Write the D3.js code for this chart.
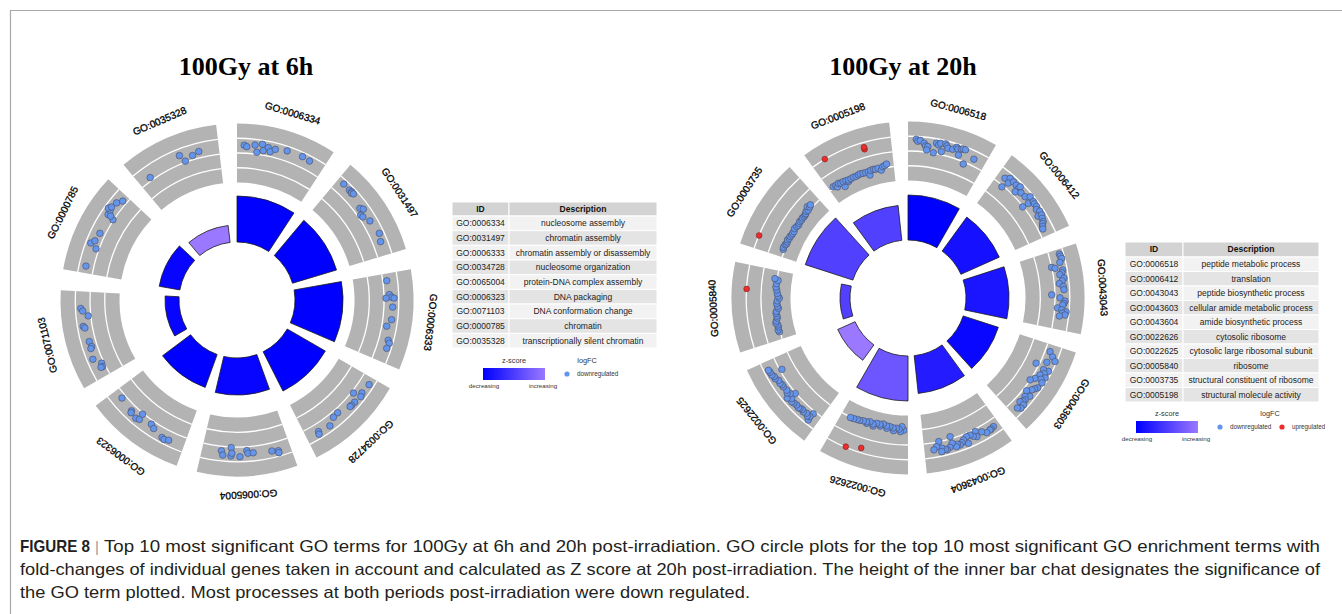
<!DOCTYPE html>
<html><head><meta charset="utf-8">
<script src="https://cdn.jsdelivr.net/npm/d3@7"></script>
<style>body{margin:0;background:#fff}svg{display:block}</style>
</head><body>
<svg id="chart" width="1342" height="614"></svg>
<script>
// ---------------- DATA ----------------
const ids6h = ["GO:0006334","GO:0031497","GO:0006333","GO:0034728","GO:0065004","GO:0006323","GO:0071103","GO:0000785","GO:0035328"];
const desc6h = ["nucleosome assembly","chromatin assembly","chromatin assembly or disassembly","nucleosome organization","protein-DNA complex assembly","DNA packaging","DNA conformation change","chromatin","transcriptionally silent chromatin"];
const sig6h = [11.5, 11.5, 12, 11, 9.25, 8.75, 3.5, 5.25, 4.25];        // -log10(adj p)
const z6h = [-3.5, -3.5, -3.5, -3.5, -3.4, -3.5, -3.4, -3.4, -1.25];    // z-score
// genes: [relative position in term, logFC]
const down6h = [
 [[0.08,0.54],[0.11,0.45],[0.20,0.61],[0.28,0.73],[0.23,0.14],[0.30,0.31],[0.35,0.58],[0.38,0.34],[0.43,0.57],[0.56,0.70],[0.74,0.72],[0.83,0.66]],
 [[0.08,0.72],[0.17,0.69],[0.20,0.73],[0.21,0.65],[0.23,0.71],[0.40,0.43],[0.43,0.58],[0.47,0.20],[0.50,0.26],[0.58,0.52],[0.75,0.69],[0.84,0.54]],
 [[0.08,0.27],[0.24,0.37],[0.27,0.52],[0.28,0.68],[0.28,0.14],[0.38,0.60],[0.52,0.60],[0.60,0.34],[0.75,0.64],[0.78,0.77],[0.84,0.70]],
 [[0.08,0.67],[0.20,0.59],[0.24,0.68],[0.26,0.14],[0.33,0.60],[0.38,0.58],[0.40,0.57],[0.55,0.28],[0.62,0.33],[0.71,0.64],[0.85,0.53],[0.86,0.70]],
 [[0.78,0.31],[0.67,0.05],[0.76,0.59],[0.67,0.62],[0.66,0.43],[0.57,0.66],[0.49,0.27],[0.48,0.45],[0.42,0.45],[0.21,0.54],[0.14,0.63],[0.14,0.77]],
 [[0.89,0.28],[0.71,0.41],[0.70,0.52],[0.62,0.58],[0.58,0.49],[0.59,0.08],[0.44,0.26],[0.39,0.42],[0.26,0.65],[0.23,0.70],[0.18,0.61]],
 [[0.81,0.64],[0.78,0.52],[0.72,0.18],[0.61,0.61],[0.59,0.52],[0.43,0.44],[0.37,0.38],[0.35,0.47],[0.23,0.60],[0.15,0.16],[0.11,0.20],[0.11,0.32]],
 [[0.08,0.53],[0.34,0.67],[0.38,0.47],[0.30,0.20],[0.48,0.37],[0.71,0.52],[0.76,0.56],[0.77,0.75],[0.80,0.62],[0.69,0.05],[0.71,0.32],[0.87,0.52],[0.93,0.28]],
 [[0.14,0.21],[0.55,0.57],[0.59,0.08],[0.69,0.28],[0.77,0.43]]
];
const up6h = [[],[],[],[],[],[],[],[],[]];

const ids20h = ["GO:0006518","GO:0006412","GO:0043043","GO:0043603","GO:0043604","GO:0022626","GO:0022625","GO:0005840","GO:0003735","GO:0005198"];
const desc20h = ["peptide metabolic process","translation","peptide biosynthetic process","cellular amide metabolic process","amide biosynthetic process","cytosolic ribosome","cytosolic large ribosomal subunit","ribosome","structural constituent of ribosome","structural molecule activity"];
const sig20h = [11.25, 10.5, 10.75, 9.25, 9.5, 11.25, 4.75, 2.5, 12.5, 8.75];
const z20h = [-8.0, -7.3, -7.1, -7.7, -6.8, -4.4, -2.9, -5.3, -5.3, -5.3];
const down20h = [
 [[0.10,0.81],[0.12,0.68],[0.15,0.75],[0.20,0.58],[0.22,0.41],[0.25,0.39],[0.24,0.15],[0.33,0.03],[0.35,0.70],[0.38,0.61],[0.40,0.75],[0.43,0.21],[0.46,0.79],[0.48,0.68],[0.50,0.54],[0.56,0.56],[0.60,0.77],[0.62,0.68],[0.65,0.31],[0.66,0.75],[0.68,0.81],[0.71,0.81],[0.75,-0.14],[0.85,0.45]],
 [[0.10,0.48],[0.14,-0.10],[0.15,0.70],[0.17,0.37],[0.21,0.67],[0.26,0.63],[0.31,0.54],[0.31,0.74],[0.31,0.26],[0.37,0.50],[0.44,0.53],[0.48,0.79],[0.52,-0.03],[0.53,0.41],[0.55,0.75],[0.58,0.72],[0.62,0.73],[0.65,0.60],[0.69,0.73],[0.73,0.45],[0.74,0.71],[0.78,0.62],[0.82,0.56],[0.84,0.45],[0.87,0.37],[0.90,0.30]],
 [[0.06,0.72],[0.09,0.75],[0.12,0.79],[0.16,0.61],[0.20,-0.01],[0.22,0.20],[0.26,0.69],[0.29,0.60],[0.31,0.45],[0.36,0.69],[0.39,0.55],[0.42,0.34],[0.46,0.59],[0.50,0.62],[0.56,-0.22],[0.60,0.34],[0.64,0.68],[0.67,0.60],[0.69,0.53],[0.73,0.18],[0.75,0.49],[0.77,0.79],[0.79,0.55],[0.81,0.74],[0.83,0.37]],
 [[0.09,0.33],[0.14,0.62],[0.18,0.89],[0.23,0.41],[0.30,-0.22],[0.32,0.78],[0.33,0.43],[0.37,0.60],[0.41,0.39],[0.41,0.80],[0.45,0.60],[0.48,0.22],[0.48,0.79],[0.53,0.00],[0.56,0.73],[0.59,0.60],[0.62,0.49],[0.67,0.24],[0.70,0.64],[0.74,0.40],[0.77,0.56],[0.80,0.50],[0.83,0.38],[0.83,0.70],[0.88,0.73],[0.91,0.55]],
 [[0.08,0.50],[0.12,0.55],[0.14,0.57],[0.19,0.61],[0.24,0.39],[0.31,0.17],[0.32,0.53],[0.36,0.40],[0.39,0.23],[0.44,0.24],[0.45,0.70],[0.49,0.37],[0.52,0.50],[0.55,0.60],[0.58,0.50],[0.60,0.64],[0.64,0.32],[0.64,-0.14],[0.68,0.55],[0.72,0.66],[0.74,0.60],[0.78,0.47],[0.79,0.70],[0.80,-0.01],[0.84,0.30],[0.88,0.48]],
 [[0.06,-1.00],[0.09,-1.23],[0.11,-0.89],[0.13,-1.05],[0.17,-1.10],[0.21,-0.92],[0.22,-1.10],[0.27,-1.16],[0.31,-1.02],[0.32,-1.18],[0.37,-1.26],[0.41,-1.08],[0.42,-1.20],[0.47,-1.21],[0.51,-0.97],[0.52,-1.10],[0.57,-1.19],[0.61,-1.02],[0.62,-1.12],[0.67,-1.11],[0.72,-1.05],[0.76,-1.04],[0.81,-1.00],[0.86,-0.97]],
 [[0.11,0.18],[0.11,0.72],[0.12,0.47],[0.15,0.55],[0.18,0.44],[0.22,0.52],[0.25,0.45],[0.28,0.50],[0.30,0.55],[0.34,0.50],[0.38,0.55],[0.41,0.60],[0.44,0.45],[0.46,0.05],[0.48,0.67],[0.50,0.32],[0.53,0.45],[0.56,0.36],[0.62,0.41],[0.65,0.40],[0.68,0.46],[0.72,0.43],[0.76,0.57],[0.79,0.55],[0.82,0.64],[0.82,-0.14],[0.86,0.65],[0.89,0.69]],
 [[0.11,-0.95],[0.14,-0.90],[0.18,-0.96],[0.21,-0.95],[0.24,-0.85],[0.27,-0.90],[0.31,-1.00],[0.34,-1.00],[0.38,-0.96],[0.41,-1.00],[0.45,-1.15],[0.48,-1.10],[0.52,-1.06],[0.56,-1.10],[0.60,-1.24],[0.63,-1.15],[0.67,-1.10],[0.72,-1.05],[0.76,-0.98],[0.81,-1.00],[0.86,-1.08],[0.88,-0.85]],
 [[0.11,-0.89],[0.14,-0.85],[0.18,-0.89],[0.20,-0.95],[0.23,-0.94],[0.26,-0.90],[0.29,-0.96],[0.32,-0.95],[0.35,-1.00],[0.38,-1.00],[0.41,-1.02],[0.45,-0.95],[0.49,-1.00],[0.52,-1.05],[0.55,-1.02],[0.58,-0.98],[0.61,-1.02],[0.64,-0.98],[0.67,-1.02],[0.70,-1.00],[0.72,-0.98],[0.75,-0.90],[0.78,-0.95],[0.81,-0.75],[0.83,-0.89],[0.86,-0.82]],
 [[0.07,-0.88],[0.11,-0.90],[0.12,-1.05],[0.16,-0.87],[0.19,-0.95],[0.22,-1.29],[0.23,-0.94],[0.27,-0.97],[0.30,-1.10],[0.31,-1.00],[0.35,-1.00],[0.39,-0.98],[0.43,-1.00],[0.47,-0.97],[0.50,-0.95],[0.54,-0.98],[0.58,-1.00],[0.62,-0.99],[0.63,-1.24],[0.66,-0.95],[0.70,-0.93],[0.73,-0.97],[0.77,-0.94],[0.81,-1.11],[0.84,-0.90],[0.87,-0.85],[0.90,-0.77]]
];
const up20h = [[],[],[],[],[],[[0.58,0.68],[0.76,0.96]],[],[[0.71,0.99]],[[0.16,0.98]],[[0.17,1.01],[0.66,0.54],[0.66,0.68]]];

const lfcTicks = [-1, 0, 1];
const captionLines = [
 "Top 10 most significant GO terms for 100Gy at 6h and 20h post-irradiation. GO circle plots for the top 10 most significant GO enrichment terms with",
 "fold-changes of individual genes taken in account and calculated as Z score at 20h post-irradiation. The height of the inner bar chat designates the significance of",
 "the GO term plotted. Most processes at both periods post-irradiation were down regulated."
];

// ---------------- DRAW ----------------
const svg = d3.select('#chart');
const SANS = "'Liberation Sans', Arial, Helvetica, sans-serif";
const BLUE = '#6495ed', RED = '#ee2c2c';

svg.append('path').attr('d','M10.5,614 V10.5 H1342').attr('fill','none')
   .attr('stroke','#a8a8a8').attr('stroke-width',1.2);

function drawCircle(cx, cy, title, titleX, ids, sig, z, down, up){
  svg.append('text').attr('x',titleX).attr('y',75).attr('text-anchor','middle')
     .attr('font-family',"'Liberation Serif','Times New Roman',serif").attr('font-weight','bold')
     .attr('font-size',26).attr('fill','#000').text(title);
  const g = svg.append('g').attr('transform',`translate(${cx},${cy})`);
  const n = ids.length, slot = 2*Math.PI/n, span = slot*0.83;
  const rS = d3.scaleLinear().domain([0,12.5]).range([58,108]);
  const lS = d3.scaleLinear().domain([-2,2]).range([117.5,176.5]);
  const cS = d3.scaleLinear().domain(d3.extent(z)).range(['#0000ff','#9a78ff']);
  const arc = d3.arc();
  const gGray = g.append('g'), gBar = g.append('g'), gPts = g.append('g'), gLab = g.append('g');
  ids.forEach((id,i)=>{
    const a0 = i*slot, a1 = a0+span;
    gGray.append('path').attr('d', arc({innerRadius:lS(-2), outerRadius:lS(2), startAngle:a0, endAngle:a1})).attr('fill','#b3b3b3');
    lfcTicks.forEach(v=>{
      const r = lS(v);
      gGray.append('path').attr('d', arc({innerRadius:r, outerRadius:r, startAngle:a0, endAngle:a1}))
        .attr('fill','none').attr('stroke','#fff').attr('stroke-width',1.3);
    });
    gBar.append('path').attr('d', arc({innerRadius:rS(0), outerRadius:rS(sig[i]), startAngle:a0, endAngle:a1}))
      .attr('fill', cS(z[i])).attr('stroke','#1a1a1a').attr('stroke-width',0.8);
    const pt = (f,v)=>{ const a=a0+f*span, r=lS(v); return [r*Math.sin(a), -r*Math.cos(a)]; };
    down[i].forEach(([f,v])=>{ const [x,y]=pt(f,v);
      gPts.append('circle').attr('cx',x).attr('cy',y).attr('r',3.3).attr('fill',BLUE).attr('stroke','#4a4a5a').attr('stroke-width',0.6); });
    up[i].forEach(([f,v])=>{ const [x,y]=pt(f,v);
      gPts.append('circle').attr('cx',x).attr('cy',y).attr('r',2.9).attr('fill',RED).attr('stroke','#5a2020').attr('stroke-width',0.5); });
    const am = (a0+a1)/2, rl = 195;
    gLab.append('text').attr('transform',`translate(${rl*Math.sin(am)},${-rl*Math.cos(am)}) rotate(${am*180/Math.PI})`)
      .attr('text-anchor','middle').attr('dy','0.35em').attr('font-family',SANS).attr('font-size',10)
      .attr('fill','#000').attr('stroke','#000').attr('stroke-width',0.3).text(id);
  });
  return cS;
}

function drawTable(x0, y0, cw, hh, rh, ids, descs){
  const g = svg.append('g').attr('font-family',SANS).attr('font-size',8.5).attr('fill','#222');
  const xs = [x0, x0+cw[0]];
  ['ID','Description'].forEach((h,j)=>{
    g.append('rect').attr('x',xs[j]).attr('y',y0).attr('width',cw[j]).attr('height',hh).attr('fill','#d3d3d3').attr('stroke','#fff').attr('stroke-width',1);
    g.append('text').attr('x',xs[j]+cw[j]/2).attr('y',y0+hh/2).attr('dy','0.35em').attr('text-anchor','middle').attr('font-weight','bold').attr('fill','#111').text(h);
  });
  ids.forEach((id,i)=>{
    const y = y0+hh+i*rh;
    [id, descs[i]].forEach((t,j)=>{
      g.append('rect').attr('x',xs[j]).attr('y',y).attr('width',cw[j]).attr('height',rh).attr('fill', i%2===0 ? '#f2f2f2' : '#e4e4e4').attr('stroke','#fff').attr('stroke-width',1);
      g.append('text').attr('x',xs[j]+cw[j]/2).attr('y',y+rh/2).attr('dy','0.35em').attr('text-anchor','middle').text(t);
    });
  });
}

let gid = 0;
function drawLegend(L, hasUp){
  const g = svg.append('g').attr('font-family',SANS).attr('fill','#333');
  const id = 'grad'+(gid++);
  const grad = svg.append('defs').append('linearGradient').attr('id',id);
  grad.append('stop').attr('offset','0%').attr('stop-color','#0000ff');
  grad.append('stop').attr('offset','100%').attr('stop-color','#9a78ff');
  g.append('text').attr('x',L.zx).attr('y',L.ty).attr('text-anchor','middle').attr('font-size',7.3).text('z-score');
  g.append('rect').attr('x',L.gx).attr('y',L.gy).attr('width',62).attr('height',12).attr('fill',`url(#${id})`);
  g.append('text').attr('x',L.gx+1).attr('y',L.gy+20).attr('text-anchor','middle').attr('font-size',6.2).text('decreasing');
  g.append('text').attr('x',L.gx+60).attr('y',L.gy+20).attr('text-anchor','middle').attr('font-size',6.2).text('increasing');
  g.append('text').attr('x',L.lx).attr('y',L.ty).attr('text-anchor','middle').attr('font-size',7.3).text('logFC');
  g.append('circle').attr('cx',L.dx).attr('cy',L.gy+6).attr('r',2.6).attr('fill',BLUE);
  g.append('text').attr('x',L.dx+10).attr('y',L.gy+8.2).attr('font-size',6.3).text('downregulated');
  if(hasUp){
    g.append('circle').attr('cx',L.dx+62).attr('cy',L.gy+6).attr('r',2.6).attr('fill',RED);
    const cp = svg.append('defs').append('clipPath').attr('id','legclip');
    cp.append('rect').attr('x',0).attr('y',0).attr('width',1325).attr('height',614);
    g.append('text').attr('clip-path','url(#legclip)').attr('x',L.dx+72).attr('y',L.gy+8.2).attr('font-size',6.3).text('upregulated');
  }
}

drawCircle(237, 300, '100Gy at 6h', 246, ids6h, sig6h, z6h, down6h, up6h);
drawCircle(908, 298, '100Gy at 20h', 903, ids20h, sig20h, z20h, down20h, up20h);
drawTable(452, 202, [57,148], 14, 14.67, ids6h, desc6h);
drawTable(1125, 242, [58,136], 15, 14.5, ids20h, desc20h);
drawLegend({zx:514, ty:363, gx:483, gy:368, lx:587, dx:567}, false);
drawLegend({zx:1167, ty:415.5, gx:1136, gy:421, lx:1270, dx:1220}, true);

// caption
const CAP = "'Liberation Sans', Arial, sans-serif";
const cg = svg.append('g').attr('font-family',CAP).attr('font-size',16.5).attr('fill','#231f20');
cg.append('text').attr('x',20).attr('y',552).attr('font-weight','bold').attr('textLength',70).attr('lengthAdjust','spacingAndGlyphs').text('FIGURE 8');
cg.append('text').attr('x',95).attr('y',552).attr('fill','#999').attr('font-size',15).text('|');
cg.append('text').attr('x',104).attr('y',552).attr('textLength',1216).attr('lengthAdjust','spacingAndGlyphs').text(captionLines[0]);
cg.append('text').attr('x',20).attr('y',575).attr('textLength',1300).attr('lengthAdjust','spacingAndGlyphs').text(captionLines[1]);
cg.append('text').attr('x',20).attr('y',598).attr('textLength',730).attr('lengthAdjust','spacingAndGlyphs').text(captionLines[2]);
</script>
</body></html>
